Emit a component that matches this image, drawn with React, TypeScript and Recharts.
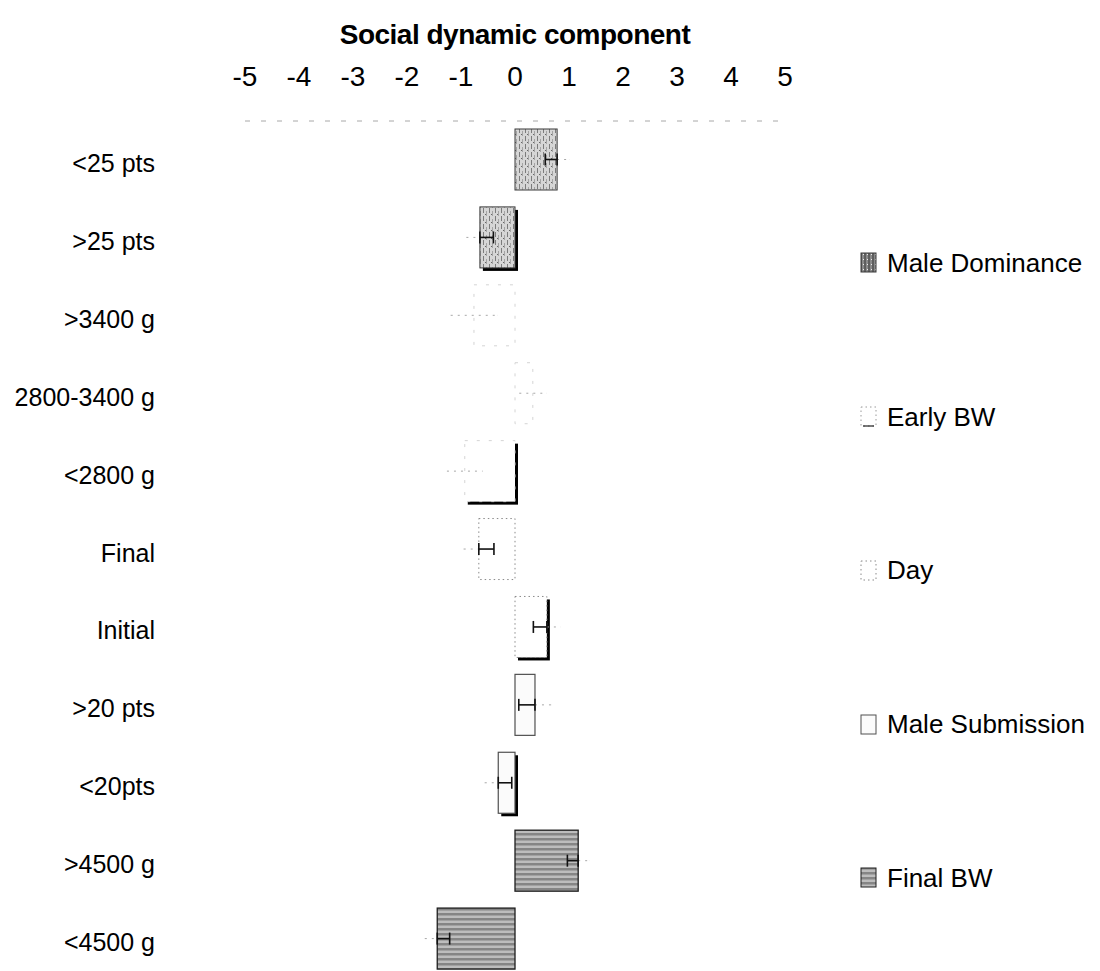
import React from "react";
import { BarChart, Bar, XAxis, YAxis, ErrorBar, Legend, Label } from "recharts";

// Row labels, top to bottom
const categories = [
  "<25 pts",
  ">25 pts",
  ">3400 g",
  "2800-3400 g",
  "<2800 g",
  "Final",
  "Initial",
  ">20 pts",
  "<20pts",
  ">4500 g",
  "<4500 g",
];

// Factor each row belongs to
const groups = [
  "Male Dominance",
  "Male Dominance",
  "Early BW",
  "Early BW",
  "Early BW",
  "Day",
  "Day",
  "Male Submission",
  "Male Submission",
  "Final BW",
  "Final BW",
];

// Mean social dynamic component and its standard error
const means = [0.78, -0.65, -0.76, 0.33, -0.93, -0.67, 0.59, 0.37, -0.31, 1.17, -1.44];
const stdErrors = [0.22, 0.25, 0.43, 0.25, 0.33, 0.28, 0.25, 0.3, 0.25, 0.2, 0.23];

const xTicks = [-5, -4, -3, -2, -1, 0, 1, 2, 3, 4, 5];

const seriesNames = ["Male Dominance", "Early BW", "Day", "Male Submission", "Final BW"];

const FONT = "'Liberation Sans', Arial, Helvetica, sans-serif";

// Whisker toward zero is drawn solid, the outer half faint.
const table = categories.map((label, i) => {
  const v = means[i];
  const e = stdErrors[i];
  const faint = groups[i] === "Early BW";
  return {
    label,
    group: groups[i],
    value: v,
    inner: faint ? undefined : v >= 0 ? [e, 0] : [0, e],
    outer: faint ? [e, e] : v >= 0 ? [0, e] : [e, 0],
  };
});

type FillStyle = { fill: string; stroke: string; strokeWidth: number; dash?: string };

const groupStyle: Record<string, FillStyle> = {
  "Male Dominance": { fill: "url(#pat-dom)", stroke: "#3a3a3a", strokeWidth: 1 },
  "Early BW": { fill: "#ffffff", stroke: "#d4d4d4", strokeWidth: 1, dash: "3 9" },
  Day: { fill: "#ffffff", stroke: "#8a8a8a", strokeWidth: 1, dash: "1.5 3" },
  "Male Submission": { fill: "#fbfbfb", stroke: "#505050", strokeWidth: 1.2 },
  "Final BW": { fill: "url(#pat-final)", stroke: "#1e1e1e", strokeWidth: 1.3 },
};

// Rows printed with a drop shadow
const shadowed = new Set([">25 pts", "<2800 g", "Initial", "<20pts"]);

const BarShape = (props: any) => {
  const { x, y, width, height, payload } = props;
  const x0 = Math.min(x, x + width);
  const w = Math.abs(width);
  const st = groupStyle[payload.group];
  return (
    <g>
      {shadowed.has(payload.label) && (
        <rect x={x0 + 3} y={y + 3} width={w} height={height} fill="#000" />
      )}
      <rect
        x={x0}
        y={y}
        width={w}
        height={height}
        fill={st.fill}
        stroke={st.stroke}
        strokeWidth={st.strokeWidth}
        strokeDasharray={st.dash}
      />
    </g>
  );
};

const CategoryTick = (props: any) => {
  const { x, y, payload } = props;
  return (
    <text x={x} y={y} dy={12} textAnchor="end" fontSize={25} fontFamily={FONT} fill="#000">
      {payload.value}
    </text>
  );
};

const ValueTick = (props: any) => {
  const { x, y, payload } = props;
  return (
    <text x={x} y={y} textAnchor="middle" fontSize={28} fontFamily={FONT} fill="#000">
      {payload.value}
    </text>
  );
};

const Swatch = ({ name }: { name: string }) => {
  const st = groupStyle[name];
  return (
    <svg width={17} height={21} style={{ flex: "none" }}>
      <rect
        x={1}
        y={1}
        width={15}
        height={19}
        fill={name === "Male Dominance" ? "url(#pat-dom-dark)" : st.fill}
        stroke={name === "Early BW" ? "#9a9a9a" : st.stroke}
        strokeWidth={1}
        strokeDasharray={st.dash ? "1.5 3" : undefined}
      />
      {name === "Early BW" && <line x1={3} y1={20} x2={14} y2={20} stroke="#222" strokeWidth={1.2} />}
    </svg>
  );
};

const LegendBlock = () => (
  <div style={{ fontFamily: FONT }}>
    {seriesNames.map((name) => (
      <div
        key={name}
        style={{ height: 153.75, display: "flex", alignItems: "center", whiteSpace: "nowrap" }}
      >
        <Swatch name={name} />
        <span style={{ fontSize: 26, marginLeft: 10, color: "#000", lineHeight: "30px" }}>{name}</span>
      </div>
    ))}
  </div>
);

export default function App() {
  return (
    <div style={{ position: "relative", fontFamily: FONT }}>
      <svg width={0} height={0} style={{ position: "absolute" }}>
        <defs>
          <pattern id="pat-dom" width={6} height={8} patternUnits="userSpaceOnUse">
            <rect width={6} height={8} fill="#d6d6d6" />
            <line x1={1.5} y1={0} x2={1.5} y2={5} stroke="#7c7c7c" strokeWidth={1} />
            <line x1={4.5} y1={3} x2={4.5} y2={8} stroke="#a4a4a4" strokeWidth={1} />
            <rect x={3} y={6} width={1} height={1} fill="#666" />
          </pattern>
          <pattern id="pat-dom-dark" width={4} height={5} patternUnits="userSpaceOnUse">
            <rect width={4} height={5} fill="#8a8a8a" />
            <line x1={1} y1={0} x2={1} y2={5} stroke="#333" strokeWidth={1} />
            <rect x={3} y={2} width={1} height={1} fill="#eee" />
          </pattern>
          <pattern id="pat-final" width={8} height={5} patternUnits="userSpaceOnUse">
            <rect width={8} height={5} fill="#bdbdbd" />
            <rect width={8} height={2.5} fill="#858585" />
          </pattern>
        </defs>
      </svg>
      <BarChart
        width={1084}
        height={975}
        layout="vertical"
        data={table}
        margin={{ top: 0, right: 307, bottom: 5, left: 0 }}
        barSize={61}
      >
        <XAxis
          type="number"
          orientation="top"
          domain={[-5, 5]}
          ticks={xTicks}
          height={113}
          tickSize={0}
          tickMargin={35}
          tick={<ValueTick />}
          tickLine={false}
          axisLine={{ stroke: "#a8a8a8", strokeDasharray: "5 11", strokeWidth: 1 }}
        >
          <Label
            value="Social dynamic component"
            position="insideTop"
            offset={16}
            fill="#000"
            style={{ fontSize: 28, fontWeight: 700, letterSpacing: -0.5, fontFamily: FONT }}
          />
        </XAxis>
        <YAxis
          type="category"
          dataKey="label"
          width={237}
          tickSize={0}
          tickMargin={90}
          tick={<CategoryTick />}
          tickLine={false}
          axisLine={false}
          interval={0}
        />
        <Bar dataKey="value" shape={<BarShape />} isAnimationActive={false}>
          <ErrorBar dataKey="outer" direction="x" width={0} stroke="#a8a8a8" strokeWidth={1} strokeDasharray="2 5" isAnimationActive={false} />
          <ErrorBar dataKey="inner" direction="x" width={6} stroke="#111" strokeWidth={1.6} isAnimationActive={false} />
        </Bar>
        <Legend
          layout="vertical"
          align="center"
          verticalAlign="middle"
          wrapperStyle={{ left: 852, top: 178, width: 232 }}
          content={() => <LegendBlock />}
        />
      </BarChart>
    </div>
  );
}
